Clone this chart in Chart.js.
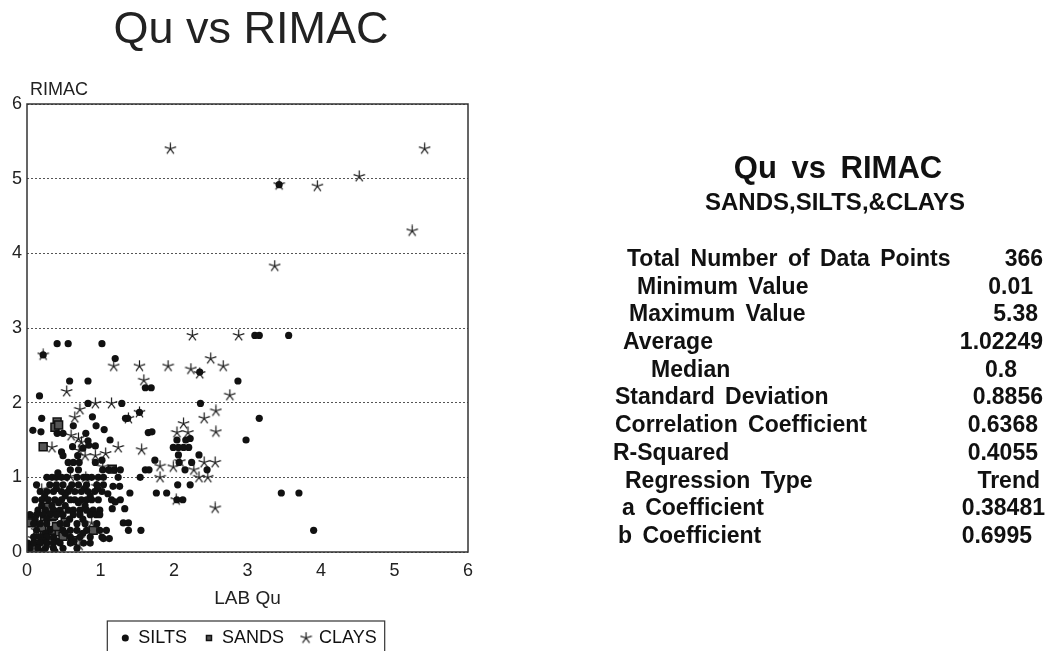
<!DOCTYPE html>
<html>
<head>
<meta charset="utf-8">
<title>Qu vs RIMAC</title>
<script src="https://cdn.jsdelivr.net/npm/chart.js"></script>
<style>
  html, body { margin: 0; padding: 0; background: #fff; overflow: hidden; }
  body { width: 1049px; height: 651px; position: relative; font-family: "Liberation Sans", Arial, sans-serif; color: #111; }
  #plot { position: absolute; left: 0; top: 0; width: 490px; height: 657px; }
  .panel { position: absolute; left: 0; top: 0; width: 1049px; height: 651px; font-weight: bold; }
  .head { position: absolute; white-space: nowrap; transform: translateX(-50%); }
  .lbl, .val { position: absolute; white-space: nowrap; font-size: 23px; line-height: 27.7px; word-spacing: 4px; }
</style>
</head>
<body>
<div id="plot"><canvas id="scatter"></canvas></div>
<div class="panel" id="panel"></div>
<script>
// LAB Qu vs RIMAC readings, [qu, rimac]
const silts = [
  [0.27,1.0],[0.34,1.0],[0.40,1.0],[0.47,1.0],[0.54,1.0],[0.68,1.0],[0.77,1.0],[0.82,1.0],[0.88,1.0],[0.97,1.0],[1.04,1.0],[1.24,1.0],[1.54,1.0],
  [0.13,0.90],[0.31,0.90],[0.40,0.90],[0.49,0.90],[0.61,0.90],[0.70,0.90],[0.81,0.90],[0.95,0.90],[1.04,0.90],[1.17,0.88],[1.26,0.88],
  [0.40,0.85],[0.58,0.85],[0.78,0.85],[0.96,0.85],
  [0.18,0.81],[0.27,0.81],[0.36,0.81],[0.47,0.81],[0.56,0.81],[0.65,0.81],[0.74,0.81],[0.83,0.81],[0.92,0.81],[1.02,0.81],[1.10,0.78],[1.40,0.79],
  [0.24,0.75],[0.52,0.75],[0.86,0.75],
  [0.11,0.70],[0.20,0.70],[0.29,0.70],[0.38,0.70],[0.47,0.70],[0.59,0.70],[0.65,0.70],[0.74,0.70],[0.81,0.70],[0.88,0.70],[0.97,0.70],[1.15,0.70],[1.27,0.70],
  [0.43,0.66],[0.70,0.66],[1.20,0.67],
  [0.20,0.62],[0.34,0.62],[0.52,0.62],[0.79,0.62],
  [0.15,0.56],[0.25,0.56],[0.36,0.56],[0.45,0.56],[0.56,0.56],[0.63,0.56],[0.72,0.56],[0.81,0.56],[0.90,0.56],[0.99,0.56],[1.16,0.58],[1.33,0.58],
  [0.04,0.50],[0.13,0.50],[0.22,0.50],[0.31,0.50],[0.40,0.50],[0.49,0.50],[0.63,0.50],[0.72,0.50],[0.86,0.50],[0.94,0.50],[0.99,0.50],
  [0.11,0.44],[0.27,0.44],[0.58,0.44],[0.76,0.44],
  [0.09,0.38],[0.18,0.38],[0.27,0.38],[0.45,0.38],[0.54,0.38],[0.68,0.38],[0.79,0.38],[0.95,0.38],[1.31,0.39],[1.38,0.39],
  [0.13,0.29],[0.31,0.29],[0.49,0.29],[0.59,0.29],[0.68,0.29],[0.81,0.29],[0.99,0.29],[1.08,0.29],[1.38,0.29],[1.55,0.29],
  [0.25,0.25],[0.52,0.25],[0.76,0.25],
  [0.09,0.20],[0.18,0.20],[0.27,0.20],[0.36,0.20],[0.59,0.20],[0.72,0.20],[0.86,0.20],[1.02,0.20],
  [0.22,0.15],[0.40,0.15],[0.63,0.15],[1.04,0.18],[1.12,0.18],
  [0.01,0.12],[0.09,0.12],[0.18,0.12],[0.27,0.12],[0.36,0.12],[0.45,0.12],[0.59,0.12],[0.77,0.12],[0.86,0.12],
  [0.04,0.05],[0.15,0.05],[0.25,0.05],[0.36,0.05],[0.49,0.05],[0.68,0.05],[0.22,0.01],[0.38,0.01],
  [0.42,1.06],[0.59,1.10],[0.70,1.10],[1.03,1.10],[1.11,1.10],[1.19,1.10],[1.27,1.10],
  [0.56,1.20],[0.63,1.20],[0.71,1.20],[0.93,1.20],[1.02,1.23],
  [0.47,1.34],[0.49,1.29],[0.62,1.41],[0.76,1.39],[0.83,1.49],[0.84,1.43],[0.69,1.29],[0.93,1.42],[1.13,1.50],
  [1.05,1.64],[0.94,1.69],[0.80,1.59],[0.63,1.69],[0.89,1.81],[0.41,1.59],[0.49,1.59],[0.08,1.63],[0.19,1.61],[0.20,1.79],
  [0.17,2.09],[0.83,1.99],[1.29,1.99],[0.58,2.29],[0.83,2.29],[0.41,2.79],[0.56,2.79],[1.02,2.79],[1.20,2.59],[0.22,2.64],
  [1.34,1.79],[1.37,1.79],[1.53,1.87],[1.65,1.60],[1.70,1.61],[1.61,2.20],[1.69,2.20],[1.74,1.23],[1.61,1.10],[1.66,1.10],
  [1.76,0.79],[1.90,0.79],[2.04,0.70],[2.12,0.70],[2.05,0.90],[2.22,0.90],
  [1.99,1.40],[2.06,1.40],[2.13,1.40],[2.20,1.40],[2.04,1.50],[2.16,1.50],[2.22,1.52],[2.06,1.30],[2.07,1.20],[2.15,1.10],[2.24,1.20],[2.34,1.30],[2.45,1.10],
  [2.36,1.99],[2.35,2.41],[2.87,2.29],[2.98,1.50],[3.10,2.90],[3.16,2.90],[3.56,2.90],[3.16,1.79],[3.46,0.79],[3.70,0.79],[3.90,0.29],[3.43,4.92]
];

const sands = [
  [0.41,1.74],[0.38,1.67],[0.43,1.70],[0.22,1.41],[1.16,1.11],
  [0.04,0.41],[0.24,0.47],[0.34,0.47],[0.43,0.27],[0.49,0.21],[0.90,0.29],[0.24,0.22],[0.17,0.18],
  [0.33,0.29],[0.40,0.34],[0.36,0.49],[0.43,0.53],[0.05,0.39],[0.29,0.60],[0.12,0.10],[0.30,0.12],
  [0.52,0.40],[0.20,0.33],[0.62,0.15],[0.08,0.05]
];

const clays = [
  [1.95,5.40],[3.43,4.92],[3.95,4.90],[4.52,5.03],[5.41,5.40],[5.24,4.30],[3.37,3.83],
  [0.22,2.64],[2.25,2.90],[2.88,2.90],[1.18,2.49],[1.53,2.49],[1.92,2.49],[2.23,2.45],[2.35,2.39],[2.50,2.59],[2.67,2.49],
  [1.59,2.30],[0.54,2.15],[2.76,2.10],[0.72,1.91],[0.93,1.99],[1.15,1.99],[0.65,1.80],[2.57,1.89],[2.41,1.79],[2.13,1.72],
  [2.04,1.60],[2.19,1.60],[2.57,1.61],[1.38,1.79],[1.53,1.87],[0.60,1.56],[0.70,1.52],[0.74,1.47],[0.34,1.40],[1.24,1.40],
  [1.56,1.37],[0.71,1.36],[0.79,1.29],[0.93,1.29],[1.07,1.32],[1.81,1.15],[1.99,1.14],[2.08,1.21],[2.41,1.20],[2.56,1.20],
  [2.27,1.10],[1.81,1.00],[2.34,1.00],[2.46,1.00],[2.56,0.59],[2.03,0.70],[0.59,1.01],[0.80,1.00],[1.03,1.14],[0.95,0.88],
  [0.20,0.84],[0.88,0.39],[0.71,0.18],[0.71,0.09],[0.13,0.29],[0.09,0.18],[0.06,0.09]
];

const seriesNames = ["SILTS", "SANDS", "CLAYS"];
const axisTicks = [0, 1, 2, 3, 4, 5, 6];

const statLabels = [
  "Total Number of Data Points", "Minimum Value", "Maximum Value", "Average", "Median",
  "Standard Deviation", "Correlation Coefficient", "R-Squared", "Regression Type",
  "a Coefficient", "b Coefficient"
];
const statValues = ["366", "0.01", "5.38", "1.02249", "0.8", "0.8856", "0.6368", "0.4055", "Trend", "0.38481", "0.6995"];

// layout of the summary table
const labelLeft = [627, 637, 629, 623, 651, 615, 615, 613, 625, 622, 618];
const valueRight = [1043, 1033, 1038, 1043, 1017, 1043, 1038, 1038, 1040, 1045, 1032];
const rowTop = 244.9, rowStep = 27.7;

const panel = document.getElementById('panel');
function addHead(text, cx, top, size) {
  const d = document.createElement('div');
  d.className = 'head';
  d.textContent = text;
  d.style.left = cx + 'px';
  d.style.top = top + 'px';
  d.style.fontSize = size + 'px';
  d.style.lineHeight = size + 'px';
  d.style.wordSpacing = '6px';
  panel.appendChild(d);
}
addHead("Qu vs RIMAC", 838, 152, 31);
addHead("SANDS,SILTS,&CLAYS", 835, 190, 24);

statLabels.forEach((t, i) => {
  const l = document.createElement('div');
  l.className = 'lbl';
  l.textContent = t;
  l.style.left = labelLeft[i] + 'px';
  l.style.top = (rowTop + i * rowStep) + 'px';
  panel.appendChild(l);
  const v = document.createElement('div');
  v.className = 'val';
  v.textContent = statValues[i];
  v.style.right = (1049 - valueRight[i]) + 'px';
  v.style.top = (rowTop + i * rowStep) + 'px';
  panel.appendChild(v);
});

// five-armed asterisk used for the clay points
function makeStar(size, color) {
  const c = document.createElement('canvas');
  c.width = size; c.height = size;
  const g = c.getContext('2d');
  const m = size / 2, r = size / 2 - 0.5;
  g.strokeStyle = color;
  g.lineWidth = 1.2;
  g.beginPath();
  for (let i = 0; i < 5; i++) {
    const a = -Math.PI / 2 + i * 2 * Math.PI / 5;
    g.moveTo(m, m);
    g.lineTo(m + r * Math.cos(a), m + r * Math.sin(a));
  }
  g.stroke();
  return c;
}
const star = makeStar(13, '#1a1a1a');

const toXY = arr => arr.map(p => ({ x: p[0], y: p[1] }));

const framePlugin = {
  id: 'frame',
  afterLayout(chart) {
    // centre the title and the legend row over the plot box
    chart.titleBlock.left += 17;
    chart.titleBlock.right += 17;
    chart.legend.left += 15;
    chart.legend.right += 15;
  },
  afterDatasetsDraw(chart) {
    const { ctx, chartArea: a } = chart;
    ctx.save();
    ctx.strokeStyle = '#333';
    ctx.lineWidth = 1.5;
    ctx.strokeRect(a.left, a.top, a.right - a.left, a.bottom - a.top);
    ctx.restore();
  },
  afterDraw(chart) {
    const { ctx, chartArea: a } = chart;
    ctx.save();
    ctx.fillStyle = '#222';
    ctx.font = '18px "Liberation Sans", Arial, sans-serif';
    ctx.textBaseline = 'alphabetic';
    ctx.fillText('RIMAC', a.left + 3, 95);

    const lg = chart.legend;
    const pad = lg.options.labels.padding;
    const rowW = lg.lineWidths[0];
    const start = (lg.left + pad + lg.right - rowW) / 2;
    ctx.strokeStyle = '#333';
    ctx.lineWidth = 1.2;
    ctx.strokeRect(start - 14, 621, rowW - pad + 22, 60);
    ctx.restore();
  }
};

Chart.defaults.font.family = '"Liberation Sans", Arial, sans-serif';
Chart.defaults.color = '#222';

new Chart(document.getElementById('scatter'), {
  type: 'scatter',
  data: {
    datasets: [
      {
        label: seriesNames[0],
        data: toXY(silts),
        pointStyle: 'circle',
        pointRadius: 3.6,
        backgroundColor: '#111',
        borderColor: '#111',
        borderWidth: 0
      },
      {
        label: seriesNames[1],
        data: toXY(sands),
        pointStyle: 'rect',
        pointRadius: 5.6,
        backgroundColor: '#555',
        borderColor: '#111',
        borderWidth: 1.5
      },
      {
        label: seriesNames[2],
        data: toXY(clays),
        pointStyle: star,
        pointRadius: 6,
        backgroundColor: '#222',
        borderColor: '#222'
      }
    ]
  },
  options: {
    responsive: true,
    maintainAspectRatio: false,
    animation: false,
    layout: { padding: { left: 0, right: 22, top: 0, bottom: 0 } },
    plugins: {
      title: {
        display: true,
        text: 'Qu vs RIMAC',
        color: '#222',
        font: { size: 45, weight: 'normal' },
        padding: { top: 4, bottom: 46 }
      },
      legend: {
        position: 'bottom',
        labels: {
          usePointStyle: true,
          boxWidth: 8,
          boxHeight: 5,
          padding: 18,
          color: '#111',
          font: { size: 18 }
        }
      },
      tooltip: { enabled: false }
    },
    scales: {
      x: {
        type: 'linear',
        min: axisTicks[0],
        max: axisTicks[axisTicks.length - 1],
        afterBuildTicks: s => { s.ticks = axisTicks.map(v => ({ value: v })); },
        afterFit: s => { s.height = 59; },
        grid: { display: false, drawTicks: false },
        border: { display: false },
        ticks: { padding: 8, color: '#222', font: { size: 18 } },
        title: { display: true, text: 'LAB Qu', color: '#222', font: { size: 19 }, padding: { top: 0, bottom: 1 } }
      },
      y: {
        min: axisTicks[0],
        max: axisTicks[axisTicks.length - 1],
        afterBuildTicks: s => { s.ticks = axisTicks.map(v => ({ value: v })); },
        afterFit: s => { s.width = 27; },
        grid: { color: '#555', lineWidth: 1, drawTicks: false, borderDash: [2, 2] },
        border: { display: false, dash: [2, 2] },
        ticks: { padding: 5, color: '#222', font: { size: 18 } }
      }
    }
  },
  plugins: [framePlugin]
});
</script>
</body>
</html>
